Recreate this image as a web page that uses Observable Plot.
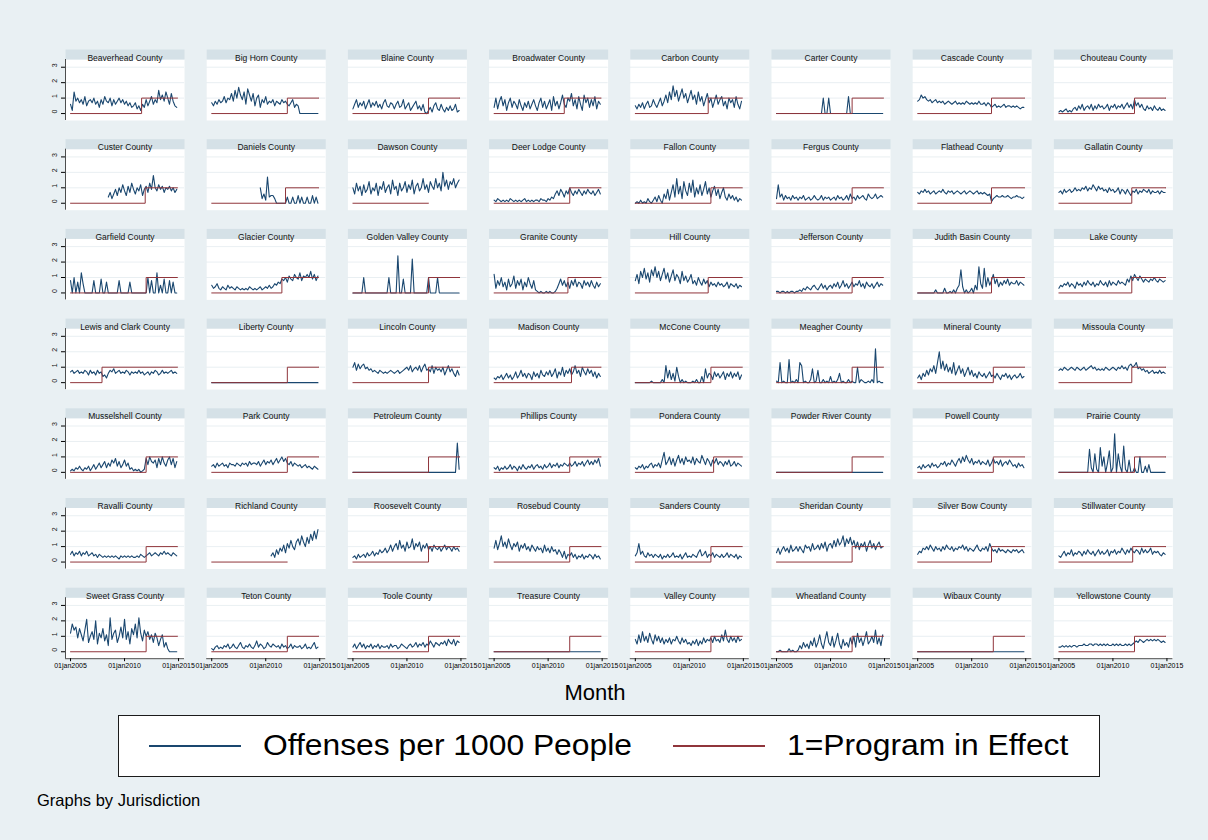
<!DOCTYPE html>
<html>
<head>
<meta charset="utf-8">
<script src="https://cdn.jsdelivr.net/npm/d3@7"></script>
<script src="https://cdn.jsdelivr.net/npm/@observablehq/plot@0.6"></script>
<style>
  html, body { margin: 0; padding: 0; background: #e9f0f3; }
  body { font-family: "Liberation Sans", Arial, Helvetica, sans-serif; color: #000; }
  #wrap { position: relative; width: 1208px; height: 840px; overflow: hidden; }
  #chart { position: absolute; left: 0; top: 0; }
  #month { position: absolute; left: 0; width: 1190px; top: 681px; text-align: center; font-size: 22px; line-height: 24px; }
  #legend { position: absolute; left: 118px; top: 715px; width: 982px; height: 62px; background: #fff; border: 1.5px solid #1b1b1b; box-sizing: border-box; }
  #legend .sw { position: absolute; top: 29px; width: 92px; height: 0; border-top: 2px solid; }
  #legend .lb { position: absolute; top: 0; line-height: 58px; font-size: 30px; white-space: nowrap; transform: scaleX(1.06); transform-origin: left center; }
  #caption { position: absolute; left: 37px; top: 791px; font-size: 16.5px; line-height: 18px; }
</style>
</head>
<body>
<div id="wrap">
  <div id="chart"></div>
  <div id="month">Month</div>
  <div id="legend">
    <span class="sw" style="left:30px;border-top-color:#1a476f"></span>
    <span class="lb" style="left:144px">Offenses per 1000 People</span>
    <span class="sw" style="left:554px;border-top-color:#90353b"></span>
    <span class="lb" style="left:668px">1=Program in Effect</span>
  </div>
  <div id="caption">Graphs by Jurisdiction</div>
</div>
<script>
// ---------------- data ----------------
const counties = [
  "Beaverhead County","Big Horn County","Blaine County","Broadwater County","Carbon County","Carter County","Cascade County","Chouteau County",
  "Custer County","Daniels County","Dawson County","Deer Lodge County","Fallon County","Fergus County","Flathead County","Gallatin County",
  "Garfield County","Glacier County","Golden Valley County","Granite County","Hill County","Jefferson County","Judith Basin County","Lake County",
  "Lewis and Clark County","Liberty County","Lincoln County","Madison County","McCone County","Meagher County","Mineral County","Missoula County",
  "Musselshell County","Park County","Petroleum County","Phillips County","Pondera County","Powder River County","Powell County","Prairie County",
  "Ravalli County","Richland County","Roosevelt County","Rosebud County","Sanders County","Sheridan County","Silver Bow County","Stillwater County",
  "Sweet Grass County","Teton County","Toole County","Treasure County","Valley County","Wheatland County","Wibaux County","Yellowstone County"
];
// month in which "1=Program in Effect" switches on
const programStart = [
  "2011-08","2012-01","2012-01","2011-07","2011-10","2012-01","2011-11","2012-01",
  "2011-12","2011-11","2012-01","2012-01","2012-01","2012-01","2011-11","2011-10",
  "2012-01","2011-07","2012-01","2011-11","2011-10","2012-01","2011-11","2011-10",
  "2007-12","2012-01","2012-01","2012-03","2012-01","2012-01","2012-01","2011-10",
  "2012-01","2012-01","2012-01","2012-01","2012-04","2012-01","2012-01","2012-01",
  "2012-01","2012-01","2012-01","2012-01","2012-01","2012-01","2011-11","2011-11",
  "2012-01","2012-01","2012-01","2012-01","2012-01","2012-01","2012-01","2012-01"
];
// counties whose program indicator is not shown after the start month
const programUnobservedAfterStart = ["Dawson County", "Richland County"];
const seriesStart = "2005-01";   // first observation
const seriesEnd = "2014-12";     // last month of the program indicator
const monthsPerObs = 2;          // one reading every two months
const xTicks = ["2005-01-01", "2010-01-01", "2015-01-01"];
const yTicks = [0, 1, 2, 3];

// Offenses per 1000 people, in tenths (one value every 2 months, 2005-2014)
const beaverhead   = [6,2,14,8,10,7, 9,6,11,5,8,9, 7,10,6,8,4,9, 6,11,8,7,10,5, 9,6,8,10,7,9, 6,8,5,7,4,5, 7,3,5,2,6,4, 9,5,8,11,6,9, 7,15,9,12,8,14, 10,6,13,8,5,4];
const bigHorn      = [7,5,8,6,9,7, 8,11,7,10,9,13, 8,15,10,17,12,9, 14,6,16,12,8,13, 5,10,12,4,9,7, 11,6,8,7,9,5, 8,7,6,9,7,8, 6,5,7,9,4,6, 5,0,0,0,0,0, 0,0,0,0,0,0];
const blaine       = [3,6,9,4,7,5, 8,3,6,9,4,7, 5,8,4,6,3,7, 9,5,4,7,6,3, 6,8,4,5,9,3, 5,7,2,4,6,8, 3,5,2,6,1,0, 2,4,1,5,7,3, 2,6,3,1,4,2, 5,2,3,6,1,2];
const broadwater   = [4,10,3,8,11,5, 9,2,7,10,4,8, 6,3,9,5,2,7, 4,8,3,6,9,5, 2,7,10,4,8,3, 6,9,2,11,5,8, 3,7,12,6,4,10, 8,13,5,9,3,11, 6,2,12,7,10,4, 9,5,11,3,8,6];
const carbon       = [5,3,6,4,7,3, 6,8,4,5,9,6, 4,7,10,5,8,12, 7,14,9,18,11,15, 8,12,16,10,13,7, 11,15,9,12,6,14, 8,11,5,9,13,7, 10,4,8,12,6,9, 11,5,8,3,10,7, 9,4,11,6,3,8];
const carter       = [0,0,0,0,0,0, 0,0,0,0,0,0, 0,0,0,0,0,0, 0,0,0,0,0,0, 0,0,10,0,0,10, 0,0,0,0,0,0, 0,0,0,0,11,0, 0,0,0,0,0,0, 0,0,0,0,0,0, 0,0,0,0,0,0];
const cascade      = [8,9,12,10,11,9, 8,9,7,8,9,7, 8,7,8,6,7,8, 7,6,7,8,6,7, 6,7,6,8,7,6, 7,6,7,6,8,6, 6,7,5,7,6,4, 5,6,4,5,4,5, 6,4,5,5,4,5, 4,5,4,3,4,4];
const chouteau     = [1,2,1,2,3,1, 2,1,3,4,2,5, 3,6,2,4,5,3, 6,2,5,3,6,4, 5,3,4,6,2,5, 4,6,3,5,4,6, 3,5,7,4,6,3, 9,5,7,4,6,3, 2,5,3,4,2,5, 3,2,4,2,3,2];

const custer       = [null,null,null,null,null,null, null,null,null,null,null,null, null,null,null,null,null,null, null,null,null,4,7,3, 6,9,5,10,7,12, 8,5,11,7,13,9, 6,10,8,12,5,9, 11,7,13,9,18,10, 8,12,9,11,7,10, 9,11,8,10,7,9];
const daniels      = [null,null,null,null,null,null, null,null,null,null,null,null, null,null,null,null,null,null, null,null,null,null,null,null, null,null,null,10,3,6, 2,17,4,5,5,3, 0,0,0,0,0,0, 4,0,0,4,0,0, 5,0,4,0,0,4, 0,0,5,0,4,0];
const dawson       = [10,6,13,8,11,5, 12,7,9,14,6,10, 8,13,5,11,9,14, 7,10,12,6,15,9, 11,5,13,8,10,14, 7,12,9,15,6,11, 13,8,10,16,9,12, 7,14,11,9,16,10, 13,8,20,11,15,9, 14,12,16,10,13,15];
const deerLodge    = [2,1,3,2,1,2, 1,2,1,3,2,1, 2,1,2,1,2,3, 1,2,1,2,1,2, 2,1,3,2,2,1, 3,2,4,3,6,8, 5,9,7,4,8,6, 10,7,5,8,6,9, 7,5,8,6,9,7, 6,8,5,7,9,6];
const fallon       = [0,1,0,2,0,1, 0,3,1,0,2,4, 1,5,2,0,6,3, 9,2,7,12,4,16, 6,11,3,14,8,5, 13,7,15,4,10,6, 12,5,9,14,6,10, 4,8,11,5,9,3, 7,10,4,2,6,3, 5,2,4,1,3,2];
const fergus       = [3,12,4,6,2,5, 3,4,2,5,3,4, 2,4,3,5,2,3, 4,2,3,5,3,2, 3,5,2,4,3,4, 2,3,4,2,5,3, 4,2,3,5,2,6, 3,4,2,5,3,4, 5,3,2,6,4,3, 4,6,3,4,5,4];
const flathead     = [7,6,8,7,9,7, 8,6,7,8,6,7, 8,7,9,7,6,8, 7,8,6,7,8,7, 6,7,8,6,7,8, 7,6,7,8,6,7, 6,7,6,5,6,1, 3,4,5,4,4,5, 4,4,5,4,3,4, 4,5,4,4,3,4];
const gallatin     = [7,8,6,9,7,8, 9,7,8,10,8,9, 8,10,9,11,8,10, 9,12,10,8,11,9, 10,8,9,7,10,8, 9,7,8,10,6,9, 8,6,9,7,5,8, 7,9,6,8,7,9, 8,7,9,6,8,7, 7,8,6,8,7,7];

const garfield     = [8,0,10,0,7,0, 13,6,0,0,0,0, 0,8,0,0,0,9, 0,0,7,0,0,0, 0,0,0,8,0,0, 0,0,0,7,0,0, 0,0,0,0,0,0, 0,10,0,8,0,0, 13,0,5,0,9,0, 0,8,0,7,0,0];
const glacier      = [5,3,4,6,3,2, 4,3,2,5,3,4, 3,2,4,3,2,3, 2,3,2,4,3,2, 3,2,3,4,2,3, 4,3,5,3,4,6, 5,7,6,9,8,10, 7,11,9,8,12,10, 9,13,8,11,10,12, 10,14,9,12,8,11];
const goldenValley = [0,0,0,0,0,0, 10,0,0,0,0,0, 0,0,0,0,0,0, 0,0,10,0,0,0, 0,24,0,0,9,0, 0,0,0,22,0,0, 0,0,0,0,0,0, 10,0,0,0,0,10, 0,0,0,0,0,0, 0,0,0,0,0,0];
const granite      = [12,3,8,5,10,4, 7,2,9,4,6,11, 3,8,5,9,2,7, 4,10,6,3,8,2, 1,0,1,0,0,1, 0,1,0,0,1,3, 6,9,5,8,4,7, 3,8,5,9,4,7, 6,3,8,5,7,4, 8,5,3,7,4,6];
const hill         = [8,12,6,14,10,16, 9,13,7,15,11,17, 10,14,8,12,16,9, 13,7,11,15,8,12, 10,6,14,8,11,7, 9,12,6,8,5,10, 7,5,9,6,8,4, 7,5,6,4,7,5, 6,4,5,7,3,6, 5,4,6,3,5,4];
const jefferson    = [1,1,0,1,1,0, 1,0,1,1,0,1, 1,2,1,3,2,4, 3,2,4,5,3,2, 4,6,3,5,2,4, 5,3,6,4,7,3, 5,8,4,6,3,5, 7,4,6,5,8,4, 6,3,7,5,4,6, 3,5,7,4,6,5];
const judithBasin  = [0,0,0,0,0,0, 0,0,0,0,2,0, 0,0,0,3,0,0, 1,0,2,0,3,5, 15,4,0,2,0,1, 3,0,5,2,17,6, 3,16,4,10,5,8, 12,6,9,4,7,5, 8,6,9,5,7,6, 6,8,5,7,6,5];
const lake         = [3,5,4,6,5,7, 4,6,5,3,7,5, 6,4,7,5,8,6, 5,7,4,6,5,8, 6,5,7,4,8,5, 7,6,5,8,6,7, 6,5,9,7,11,8, 12,10,8,11,9,7, 9,8,7,9,8,10, 8,7,9,8,7,8];

const lewisAndClark = [7,8,6,7,8,6, 7,6,8,7,5,8, 6,7,5,8,6,7, 4,5,3,6,8,7, 9,6,7,8,6,7, 6,8,7,5,7,6, 7,6,8,6,7,5, 6,7,5,7,6,8, 7,5,6,8,6,7, 6,7,8,6,7,6];
const liberty      = [0,0,0,0,0,0, 0,0,0,0,0,0, 0,0,0,0,0,0, 0,0,0,0,0,0, 0,0,0,0,0,0, 0,0,0,0,0,0, 0,0,0,0,0,0, 0,0,0,0,0,0, 0,0,0,0,0,0, 0,0,0,0,0,0];
const lincoln      = [10,13,8,12,9,11, 12,9,10,8,9,7, 8,7,6,8,7,6, 7,6,7,8,7,6, 7,8,6,7,8,9, 10,8,11,7,9,10, 8,11,7,10,12,8, 9,7,11,6,10,8, 9,7,10,5,8,11, 7,9,6,4,8,5];
const madison      = [3,2,4,3,5,2, 4,6,3,5,2,4, 7,3,5,8,4,6, 3,6,5,2,7,4, 6,3,8,5,4,7, 5,8,4,6,9,3, 7,5,10,4,8,6, 9,5,7,11,6,8, 4,10,7,5,9,6, 8,4,7,3,6,4];
const mcCone       = [0,0,0,0,0,0, 0,0,0,1,0,0, 0,0,0,2,0,11, 3,8,2,6,1,10, 4,0,2,0,1,0, 0,0,1,0,2,0, 0,4,0,9,3,6, 5,2,7,4,6,3, 5,7,2,6,4,7, 3,6,4,7,2,5];
const meagher      = [1,0,13,0,1,0, 0,15,0,1,0,2, 0,13,11,0,1,0, 0,2,9,0,1,8, 0,0,2,0,1,0, 4,0,1,0,2,6, 0,1,0,0,2,0, 1,0,0,10,0,2, 1,0,0,1,0,2, 0,22,0,1,0,0];
const mineral      = [3,5,2,6,4,8, 5,9,7,11,6,13, 20,9,14,8,12,7, 10,6,13,5,8,11, 6,9,4,7,10,5, 8,4,6,3,7,5, 4,6,3,5,7,4, 5,3,6,4,2,5, 4,6,3,5,2,4, 5,3,4,6,3,4];
const missoula     = [8,9,8,10,9,8, 9,10,9,8,10,9, 8,9,10,8,9,10, 11,9,10,8,9,8, 9,8,10,9,8,9, 10,9,8,10,9,11, 9,10,8,11,12,10, 11,13,9,10,8,9, 7,8,6,7,8,6, 7,6,8,6,7,6];

const musselshell  = [1,2,1,3,2,4, 2,1,3,2,4,1, 3,5,2,4,6,3, 5,7,3,6,4,8, 6,9,4,7,3,5, 8,4,6,2,3,1, 2,1,2,0,1,2, 9,5,10,7,6,8, 3,9,5,10,6,4, 8,10,5,9,3,7];
const park         = [4,5,3,6,4,5, 6,4,5,3,6,5, 5,4,6,5,4,6, 5,6,4,7,5,6, 6,5,7,4,6,8, 5,7,6,8,5,7, 9,6,8,10,7,9, 6,5,7,4,6,5, 4,5,3,4,5,3, 4,3,2,4,3,2];
const petroleum    = [0,0,0,0,0,0, 0,0,0,0,0,0, 0,0,0,0,0,0, 0,0,0,0,0,0, 0,0,0,0,0,0, 0,0,0,0,0,0, 0,0,0,0,0,0, 0,0,0,0,0,0, 0,0,0,0,0,0, 0,0,0,0,19,2];
const phillips     = [3,2,4,1,3,2, 4,2,3,5,2,4, 3,1,4,2,5,3, 2,4,3,5,2,4, 5,3,4,2,5,3, 4,6,3,5,4,6, 3,5,4,6,5,4, 6,4,5,7,4,6, 5,7,4,6,8,5, 7,5,8,6,9,4];
const pondera      = [3,2,4,3,5,2, 4,3,5,6,3,5, 4,6,3,8,13,5, 7,10,5,9,4,8, 11,6,9,5,10,7, 8,6,10,5,9,7, 6,11,8,5,9,7, 4,8,6,9,5,7, 6,4,7,5,8,4, 5,7,4,6,5,4];
const powderRiver  = [0,0,0,0,0,0, 0,0,0,0,0,0, 0,0,0,0,0,0, 0,0,0,0,0,0, 0,0,0,0,0,0, 0,0,0,0,0,0, 0,0,0,0,0,0, 0,0,0,0,0,0, 0,0,0,0,0,0, 0,0,0,0,0,0];
const powell       = [3,4,2,5,3,4, 5,3,6,4,5,3, 4,6,5,7,4,6, 5,8,6,4,7,9, 6,10,7,11,8,6, 9,5,7,6,8,5, 7,6,5,8,4,6, 9,6,7,5,8,4, 6,7,5,8,6,4, 5,3,6,4,5,3];
const prairie      = [0,0,0,0,0,0, 0,0,0,0,0,0, 0,0,0,0,0,15, 3,0,12,2,0,16, 4,10,0,6,14,0, 3,25,0,12,4,0, 17,2,0,8,0,0, 3,0,0,10,0,0, 4,0,5,0,0,0, 0,0,0,0,0,0];

const ravalli      = [5,7,4,6,5,7, 4,6,5,7,4,5, 6,4,5,3,5,4, 3,4,3,4,3,4, 3,4,3,2,4,3, 4,3,4,3,4,3, 3,4,3,5,4,3, 4,5,6,4,5,6, 5,4,6,5,7,5, 6,5,4,6,5,4];
const richland     = [null,null,null,null,null,null, null,null,null,null,null,null, null,null,null,null,null,null, null,null,null,null,null,null, null,null,null,null,null,null, null,null,null,4,6,3, 8,5,9,7,11,6, 12,9,14,10,8,13, 15,11,17,13,10,16, 12,18,14,20,15,21];
const roosevelt    = [3,4,2,5,3,4, 5,3,6,4,5,7, 4,6,5,8,6,7, 9,6,8,11,7,10, 12,8,14,9,11,7, 13,9,10,15,8,12, 10,13,7,11,9,12, 8,10,7,11,9,8, 10,7,9,11,8,10, 9,7,10,8,9,7];
const rosebud      = [9,14,8,12,17,10, 13,9,15,11,8,12, 10,13,7,11,9,12, 8,10,7,11,9,7, 10,8,9,6,11,7, 9,6,10,7,8,5, 8,6,3,7,2,5, 4,6,3,5,2,4, 3,5,2,4,3,5, 4,2,5,3,4,2];
const sanders      = [4,6,12,5,7,4, 3,6,4,5,3,5, 4,3,5,2,4,3, 5,3,4,6,3,4, 3,5,2,4,6,3, 4,3,5,4,3,6, 8,4,5,7,3,5, 4,6,3,5,4,3, 5,3,4,6,3,5, 4,3,5,2,4,3];
const sheridan     = [6,9,5,8,10,7, 9,6,11,7,8,10, 7,10,8,6,11,9, 10,7,12,8,9,11, 8,12,9,13,7,11, 12,9,14,10,15,11, 13,17,10,15,12,16, 11,14,9,13,8,12, 10,13,7,11,14,9, 12,8,11,13,9,10];
const silverBow    = [5,7,6,9,8,10, 8,11,9,7,10,8, 9,7,10,8,11,9, 8,10,7,9,8,10, 9,11,8,10,7,9, 8,7,9,11,8,7, 9,8,10,7,12,9, 7,8,6,9,7,8, 7,6,8,7,6,8, 7,8,6,7,8,6];
const stillwater   = [4,3,5,7,4,6, 5,8,4,6,5,7, 6,4,7,5,8,6, 5,7,4,6,8,5, 7,5,6,8,4,7, 6,8,5,7,6,9, 7,5,8,6,9,7, 6,8,7,5,9,6, 8,6,7,9,5,7, 6,7,5,4,6,5];

const sweetGrass   = [12,18,14,16,9,15, 11,7,14,21,6,10, 13,8,20,5,12,9, 15,7,11,4,22,8, 12,14,6,10,16,9, 21,8,13,5,15,11, 18,9,22,12,7,14, 10,13,8,11,6,12, 9,4,8,11,3,6, 2,0,0,0,0,0];
const teton        = [2,1,3,4,2,3, 2,4,3,5,2,3, 5,3,2,4,6,3, 2,4,3,5,3,2, 4,7,3,5,4,2, 3,6,4,3,5,4, 3,4,2,5,3,4, 2,3,5,2,4,3, 3,4,2,3,5,2, 3,2,4,6,2,3];
const toole        = [3,5,2,4,6,3, 5,2,4,3,5,2, 4,3,5,2,4,3, 3,4,2,5,3,4, 4,2,3,5,4,3, 2,4,5,3,4,6, 3,5,4,6,3,5, 4,7,5,3,6,5, 4,6,5,7,4,8, 6,5,8,4,7,6];
const treasure     = [0,0,0,0,0,0, 0,0,0,0,0,0, 0,0,0,0,0,0, 0,0,0,0,0,0, 0,0,0,0,0,0, 0,0,0,0,0,0, 0,0,0,0,0,0, 0,0,0,0,0,0, 0,0,0,0,0,0, 0,0,0,0,0,0];
const valley       = [8,5,11,6,13,7, 10,6,12,8,5,11, 7,10,6,9,5,8, 6,9,5,8,7,10, 7,5,9,6,8,5, 6,4,7,5,8,4, 7,5,9,6,8,7, 9,6,10,7,8,6, 11,7,14,8,6,10, 7,9,6,10,7,8];
const wheatland    = [0,0,1,0,0,0, 0,2,0,1,0,0, 1,4,2,6,3,5, 2,7,4,9,3,6, 11,5,2,8,13,6, 4,10,3,7,12,5, 2,8,4,6,3,9, 5,10,3,12,6,9, 4,8,13,5,7,10, 6,14,5,9,4,11];
const wibaux       = [0,0,0,0,0,0, 0,0,0,0,0,0, 0,0,0,0,0,0, 0,0,0,0,0,0, 0,0,0,0,0,0, 0,0,0,0,0,0, 0,0,0,0,0,0, 0,0,0,0,0,0, 0,0,0,0,0,0, 0,0,0,0,0,0];
const yellowstone  = [3,3,4,3,4,3, 4,3,4,4,3,4, 4,4,5,4,4,5, 5,4,5,5,4,5, 4,5,4,5,4,4, 5,4,5,4,5,4, 4,5,4,5,4,5, 6,7,6,8,7,6, 7,8,7,8,7,8, 7,8,7,6,7,6];

const series = [
  beaverhead, bigHorn, blaine, broadwater, carbon, carter, cascade, chouteau,
  custer, daniels, dawson, deerLodge, fallon, fergus, flathead, gallatin,
  garfield, glacier, goldenValley, granite, hill, jefferson, judithBasin, lake,
  lewisAndClark, liberty, lincoln, madison, mcCone, meagher, mineral, missoula,
  musselshell, park, petroleum, phillips, pondera, powderRiver, powell, prairie,
  ravalli, richland, roosevelt, rosebud, sanders, sheridan, silverBow, stillwater,
  sweetGrass, teton, toole, treasure, valley, wheatland, wibaux, yellowstone
];

// ---------------- layout / style ----------------
const ncol = 8, nrow = 7;
const stripH = 10, panelH = 71;
const navy = "#1a476f", maroon = "#90353b";
const stripFill = "#d5e1e7", gridColor = "#e3ebef";
const xDomain = [new Date(Date.UTC(2004, 6, 15)), new Date(Date.UTC(2015, 6, 22))];
const yDomain = [-0.45, 3.5];

// ---------------- tables ----------------
const parseMonth = d3.utcParse("%Y-%m");
const t0 = parseMonth(seriesStart);
const tEnd = parseMonth(seriesEnd);
const panels = counties.map((name, i) => ({name, i}));
const offenseRows = series.flatMap((vals, i) =>
  vals.map((v, k) => ({i, date: d3.utcMonth.offset(t0, k * monthsPerObs), value: v == null ? NaN : v / 10})));
const programRows = counties.flatMap((name, i) => {
  const s = parseMonth(programStart[i]);
  if (programUnobservedAfterStart.includes(name))
    return [{i, date: t0, value: 0}, {i, date: s, value: 0}];
  return [{i, date: t0, value: 0}, {i, date: s, value: 1}, {i, date: tEnd, value: 1}];
});
const yLabelRows = d3.cross(d3.range(nrow), yTicks).map(([row, v]) => ({row, v}));
const fx = d => d.i % ncol;
const fy = d => Math.floor(d.i / ncol);

const chart = Plot.plot({
  width: 1208,
  height: 680,
  marginLeft: 65,
  marginRight: 35.6,
  marginTop: 49,
  marginBottom: 21.8,
  style: {background: "transparent", fontFamily: "'Liberation Sans', Arial, sans-serif", color: "#000", overflow: "visible"},
  fx: {axis: null, paddingInner: 0.157, paddingOuter: 0, round: false},
  fy: {axis: null, paddingInner: 0.2085, paddingOuter: 0, round: false},
  x: {type: "utc", domain: xDomain},
  y: {domain: yDomain, insetTop: stripH},
  marks: [
    Plot.frame({fill: "white", stroke: null, insetTop: stripH}),
    Plot.frame({fill: stripFill, stroke: null, insetBottom: panelH - stripH}),
    Plot.ruleY(yTicks.filter(v => v > 0), {stroke: gridColor, strokeWidth: 0.8}),
    Plot.text(panels, {fx, fy, text: "name", frameAnchor: "top", dy: stripH / 2, fontSize: 8.5, fill: "#111"}),
    Plot.line(offenseRows, {fx, fy, x: "date", y: "value", z: "i", stroke: navy, strokeWidth: 1.1}),
    Plot.line(programRows, {fx, fy, x: "date", y: "value", z: "i", stroke: maroon, strokeWidth: 1, curve: "step-after"}),
    Plot.ruleX(d3.range(nrow), {fx: () => 0, fy: d => d, x: () => xDomain[0], y1: () => yDomain[0], y2: () => yDomain[1], stroke: "#222", strokeWidth: 0.8}),
    Plot.ruleY(d3.range(ncol), {fx: d => d, fy: () => nrow - 1, y: () => yDomain[0], stroke: "#222", strokeWidth: 0.8}),
    Plot.axisY({ticks: yTicks, tickSize: 4, tickFormat: () => "", label: null}),
    Plot.text(yLabelRows, {fx: () => 0, fy: "row", y: "v", text: d => String(d.v), frameAnchor: "left", dx: -11, rotate: -90, fontSize: 7, fill: "#111"}),
    Plot.axisX({ticks: xTicks.map(s => new Date(s)), tickFormat: d => "01jan" + d.getUTCFullYear(), tickSize: 3, tickPadding: 1, fontSize: 7, label: null})
  ]
});
document.getElementById("chart").appendChild(chart);
</script>
</body>
</html>
